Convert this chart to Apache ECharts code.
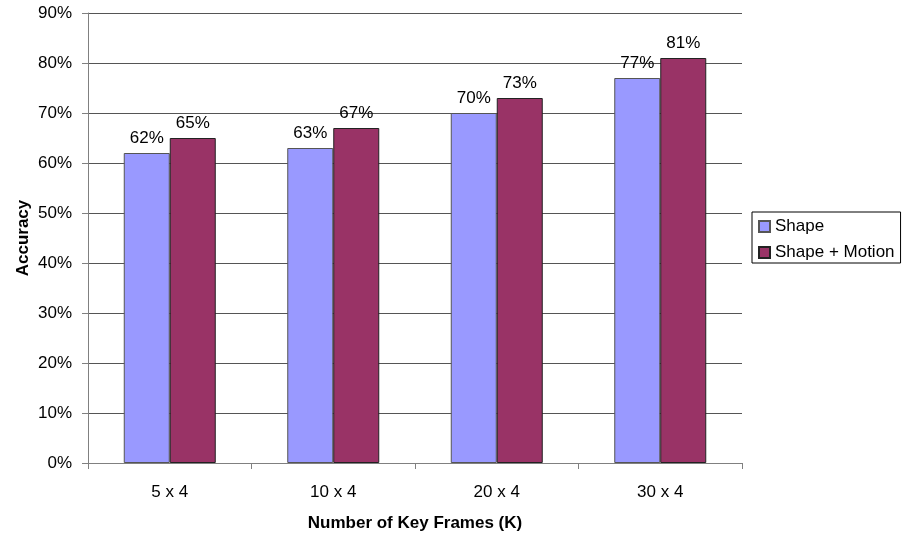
<!DOCTYPE html>
<html>
<head>
<meta charset="utf-8">
<script src="https://cdn.jsdelivr.net/npm/echarts@6/dist/echarts.min.js"></script>
<style>
  html, body { margin: 0; padding: 0; background: #fff; }
  #chart { width: 903px; height: 538px; }
</style>
</head>
<body>
<div id="chart"></div>
<script>
// Accuracy by number of key frames
const categories = ['5 x 4', '10 x 4', '20 x 4', '30 x 4'];
const shapeValues = [62, 63, 70, 77];
const shapeMotionValues = [65, 67, 73, 81];
const yTicks = [0, 10, 20, 30, 40, 50, 60, 70, 80, 90];

const FONT = 'Liberation Sans, Arial, sans-serif';

const chart = echarts.init(document.getElementById('chart'), null, { renderer: 'canvas' });

const labelStyle = {
  show: true,
  position: 'top',
  distance: 6,
  formatter: p => p.value + '%',
  fontFamily: FONT,
  fontSize: 17,
  color: '#000'
};

chart.setOption({
  animation: false,
  backgroundColor: '#fff',
  grid: {
    left: 88, right: 161, top: 13, bottom: 75,
    containLabel: false,
    outerBoundsMode: 'none'
  },
  legend: {
    orient: 'vertical',
    left: 752,
    top: 212,
    padding: [6, 6, 2, 6],
    itemGap: 9,
    itemWidth: 11,
    itemHeight: 11,
    borderColor: '#000',
    borderWidth: 1,
    icon: 'rect',
    textStyle: { fontFamily: FONT, fontSize: 17, color: '#000', padding: [0, 0, 0, 0] },
    data: ['Shape', 'Shape + Motion']
  },
  xAxis: {
    type: 'category',
    data: categories,
    name: 'Number of Key Frames (K)',
    nameLocation: 'middle',
    nameGap: 52,
    nameMoveOverlap: false,
    nameTextStyle: { fontFamily: FONT, fontSize: 17, fontWeight: 'bold', color: '#000' },
    axisLine: { lineStyle: { color: '#808080', width: 1 } },
    axisTick: { show: true, length: 6, lineStyle: { color: '#808080' } },
    axisLabel: { fontFamily: FONT, fontSize: 17, color: '#000', margin: 21 }
  },
  yAxis: {
    type: 'value',
    min: 0,
    max: 90,
    interval: 10,
    name: 'Accuracy',
    nameLocation: 'middle',
    nameGap: 56,
    nameMoveOverlap: false,
    nameTextStyle: { fontFamily: FONT, fontSize: 17, fontWeight: 'bold', color: '#000' },
    axisLine: { show: true, lineStyle: { color: '#808080', width: 1 } },
    axisTick: { show: true, length: 6, lineStyle: { color: '#808080' } },
    axisLabel: {
      fontFamily: FONT, fontSize: 17, color: '#000', margin: 16,
      formatter: v => (yTicks.includes(v) ? v + '%' : '')
    },
    splitLine: { show: true, lineStyle: { color: '#555', width: 1 } }
  },
  series: [
    {
      name: 'Shape',
      type: 'bar',
      data: shapeValues,
      barWidth: 46,
      barGap: '0%',
      itemStyle: { color: '#9999FF', borderColor: '#555', borderWidth: 1 },
      label: labelStyle
    },
    {
      name: 'Shape + Motion',
      type: 'bar',
      data: shapeMotionValues,
      barWidth: 46,
      barGap: '0%',
      itemStyle: { color: '#993366', borderColor: '#222', borderWidth: 1 },
      label: labelStyle
    }
  ]
});
</script>
</body>
</html>
